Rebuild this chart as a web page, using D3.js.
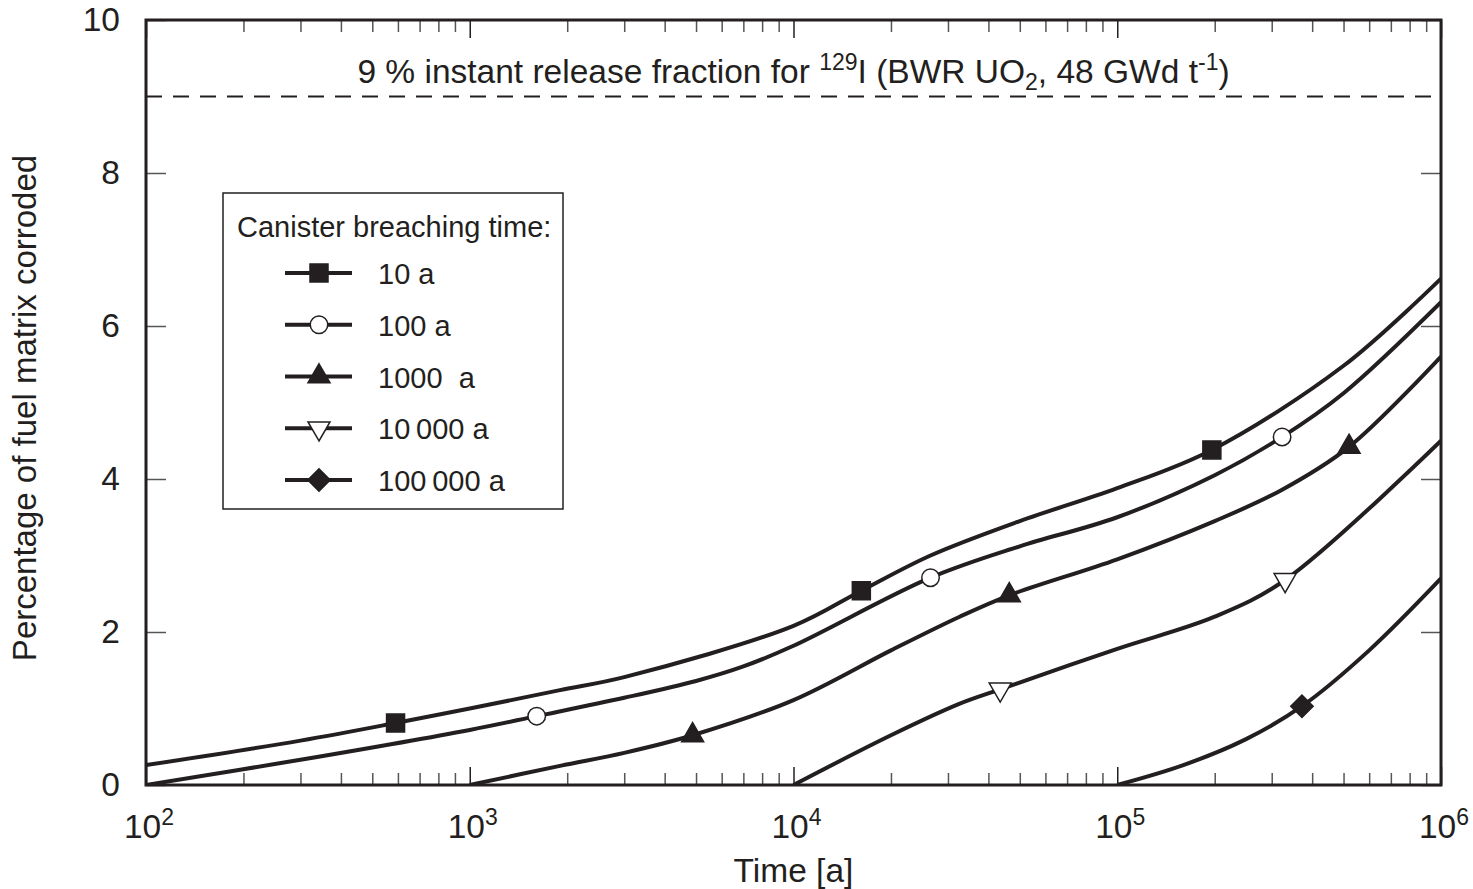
<!DOCTYPE html>
<html>
<head>
<meta charset="utf-8">
<script src="https://cdn.jsdelivr.net/npm/d3@7"></script>
<style>
  body { margin: 0; background: #fff; }
  svg text { font-family: "Liberation Sans", Arial, sans-serif; fill: #231f20; }
</style>
</head>
<body>
<div id="chart"></div>
<script>
// values (time in years, % of fuel matrix corroded)
const times10a = [100, 300, 590, 1000, 1900, 3000, 10000, 16200, 26500, 50000, 100000, 196000, 500000, 1000000];
const pct10a   = [0.26, 0.58, 0.81, 1.0, 1.24, 1.41, 2.08, 2.54, 3.0, 3.45, 3.88, 4.38, 5.48, 6.62];

const times100a = [100, 300, 1000, 1610, 3000, 5000, 7000, 10000, 26500, 50000, 100000, 200000, 323000, 500000, 1000000];
const pct100a   = [0, 0.33, 0.72, 0.90, 1.14, 1.36, 1.55, 1.82, 2.71, 3.12, 3.5, 4.05, 4.55, 5.12, 6.31];

const times1000a = [1000, 1900, 3000, 4880, 10000, 20000, 32600, 46400, 100000, 200000, 320000, 520000, 1000000];
const pct1000a   = [0, 0.25, 0.42, 0.65, 1.11, 1.76, 2.2, 2.48, 2.95, 3.45, 3.85, 4.42, 5.6];

const times10000a = [10000, 20000, 32500, 43500, 100000, 200000, 330000, 1000000];
const pct10000a   = [0, 0.65, 1.06, 1.25, 1.78, 2.2, 2.68, 4.5];

const times100000a = [100000, 160000, 250000, 372000, 600000, 1000000];
const pct100000a   = [0, 0.26, 0.6, 1.03, 1.76, 2.7];

// times at which a marker is drawn on each curve
const markTimes10a = [590, 16200, 196000];
const markTimes100a = [1610, 26500, 323000];
const markTimes1000a = [4880, 46400, 520000];
const markTimes10000a = [43500, 330000];
const markTimes100000a = [372000];

const legendLabels = ["10 a", "100 a", "1000  a", "10\u2009000 a", "100\u2009000 a"];
const xMajorExp = [2, 3, 4, 5, 6];
const yTicks = [0, 2, 4, 6, 8, 10];
const irfLevel = 9;

// plot geometry
width = 1473;
height = 889;
left = 146; right = 1441; top_ = 20; bottom = 785;
ink = "#231f20";
fontBig = 33.5;
fontSup = 23;
fontLegend = 29;

series = [
    { name: legendLabels[0], t: times10a, v: pct10a, marks: markTimes10a, shape: "square", fill: ink },
    { name: legendLabels[1], t: times100a, v: pct100a, marks: markTimes100a, shape: "circle", fill: "#fff" },
    { name: legendLabels[2], t: times1000a, v: pct1000a, marks: markTimes1000a, shape: "up", fill: ink },
    { name: legendLabels[3], t: times10000a, v: pct10000a, marks: markTimes10000a, shape: "down", fill: "#fff" },
    { name: legendLabels[4], t: times100000a, v: pct100000a, marks: markTimes100000a, shape: "diamond", fill: ink }
];

xScale = d3.scaleLog().domain([1e2, 1e6]).range([left, right]);
yScale = d3.scaleLinear().domain([0, 10]).range([bottom, top_]);

svg = d3.select("#chart").append("svg")
    .attr("width", width)
    .attr("height", height);

svg.append("clipPath").attr("id", "plotclip")
    .append("rect")
    .attr("x", left).attr("y", top_)
    .attr("width", right - left).attr("height", bottom - top_);

/* ticks: minor and major on bottom and top, pointing inward */
minorTicks = [];
xMajorExp.slice(0, -1).forEach(function (e) {
    for (var k = 2; k <= 9; k++) minorTicks.push(k * Math.pow(10, e));
});
majorTicks = xMajorExp.map(e => Math.pow(10, e));

function xTicks(side, vals, len, color) {
    var g = svg.append("g")
        .attr("transform", side === "bottom" ? `translate(0,${bottom})` : `translate(0,${top_})`)
        .call((side === "bottom" ? d3.axisBottom(xScale) : d3.axisTop(xScale))
            .tickValues(vals).tickSize(-len).tickFormat(""));
    g.select(".domain").remove();
    g.selectAll(".tick line").attr("stroke", color).attr("stroke-width", 1.5);
}
xTicks("bottom", minorTicks, 12, "#555");
xTicks("top", minorTicks, 12, "#555");
xTicks("bottom", majorTicks, 18, ink);
xTicks("top", majorTicks, 18, ink);

yl = svg.append("g")
    .attr("transform", `translate(${left},0)`)
    .call(d3.axisLeft(yScale).tickValues(yTicks).tickSize(-20).tickPadding(26));
yl.select(".domain").remove();
yl.selectAll(".tick line").attr("stroke", "#555").attr("stroke-width", 1.5);
yl.selectAll(".tick text").attr("font-size", fontBig).attr("fill", ink)
    .style("font-family", '"Liberation Sans", Arial, sans-serif');

yr = svg.append("g")
    .attr("transform", `translate(${right},0)`)
    .call(d3.axisRight(yScale).tickValues(yTicks).tickSize(-20).tickFormat(""));
yr.select(".domain").remove();
yr.selectAll(".tick line").attr("stroke", "#555").attr("stroke-width", 1.5);

/* x tick labels as powers of ten */
xl = svg.append("g").selectAll("text")
    .data(xMajorExp).enter()
    .append("text")
    .attr("x", e => xScale(Math.pow(10, e)) + 3)
    .attr("y", 838)
    .attr("text-anchor", "middle")
    .attr("font-size", fontBig);
xl.append("tspan").text("10");
xl.append("tspan").attr("dy", -13).attr("font-size", fontSup).text(e => e);

/* frame */
svg.append("rect")
    .attr("x", left).attr("y", top_)
    .attr("width", right - left).attr("height", bottom - top_)
    .attr("fill", "none").attr("stroke", ink).attr("stroke-width", 3);

/* instant release fraction line */
svg.append("line")
    .attr("x1", left).attr("x2", right)
    .attr("y1", yScale(irfLevel)).attr("y2", yScale(irfLevel))
    .attr("stroke", ink).attr("stroke-width", 2)
    .attr("stroke-dasharray", "16,11");

title = svg.append("text")
    .attr("x", (left + right) / 2)
    .attr("y", 83)
    .attr("text-anchor", "middle")
    .attr("font-size", fontBig);
title.append("tspan").text("9 % instant release fraction for ");
title.append("tspan").attr("dy", -13).attr("font-size", fontSup).text("129");
title.append("tspan").attr("dy", 13).text("I (BWR UO");
title.append("tspan").attr("dy", 7).attr("font-size", fontSup).text("2");
title.append("tspan").attr("dy", -7).text(", 48 GWd t");
title.append("tspan").attr("dy", -13).attr("font-size", fontSup).text("-1");
title.append("tspan").attr("dy", 13).text(")");

/* axis titles */
svg.append("text")
    .attr("x", (left + right) / 2)
    .attr("y", 882)
    .attr("text-anchor", "middle")
    .attr("font-size", fontBig)
    .text("Time [a]");

svg.append("text")
    .attr("transform", "translate(36,408) rotate(-90)")
    .attr("text-anchor", "middle")
    .attr("font-size", 33)
    .text("Percentage of fuel matrix corroded");

/* curves */
line = d3.line()
    .x(d => xScale(d[0]))
    .y(d => yScale(d[1]))
    .curve(d3.curveCatmullRom.alpha(0.5));

curves = svg.append("g").attr("clip-path", "url(#plotclip)");
curves.selectAll("path")
    .data(series).enter()
    .append("path")
    .attr("d", s => line(s.t.map((t, i) => [t, s.v[i]])))
    .attr("fill", "none")
    .attr("stroke", ink)
    .attr("stroke-width", 4);

function symbolPath(shape) {
    if (shape === "square") return d3.symbol().type(d3.symbolSquare).size(324)();
    if (shape === "circle") return d3.symbol().type(d3.symbolCircle).size(240)();
    if (shape === "up" || shape === "down") return d3.symbol().type(d3.symbolTriangle).size(210)();
    return d3.symbol().type(d3.symbolSquare).size(250)();
}
function symbolRotate(shape) {
    if (shape === "down") return " rotate(180)";
    if (shape === "diamond") return " rotate(45)";
    return "";
}

series.forEach(function (s) {
    svg.append("g").selectAll("path")
        .data(s.marks).enter()
        .append("path")
        .attr("d", symbolPath(s.shape))
        .attr("transform", t => `translate(${xScale(t)},${yScale(s.v[s.t.indexOf(t)])})` + symbolRotate(s.shape))
        .attr("fill", s.fill)
        .attr("stroke", ink)
        .attr("stroke-width", 1.5);
});

/* legend */
legend = svg.append("g");
legend.append("rect")
    .attr("x", 223).attr("y", 193)
    .attr("width", 340).attr("height", 316)
    .attr("fill", "#fff").attr("stroke", ink).attr("stroke-width", 1.5);
legend.append("text")
    .attr("x", 237).attr("y", 237)
    .attr("font-size", fontLegend)
    .text("Canister breaching time:");

rowY = d3.scalePoint().domain(legendLabels).range([273, 480]);
rows = legend.selectAll(".row")
    .data(series).enter()
    .append("g")
    .attr("class", "row")
    .attr("transform", s => `translate(0,${rowY(s.name)})`);
rows.append("line")
    .attr("x1", 285).attr("x2", 352)
    .attr("stroke", ink).attr("stroke-width", 4);
rows.append("path")
    .attr("d", s => symbolPath(s.shape))
    .attr("transform", s => "translate(319,0)" + symbolRotate(s.shape))
    .attr("fill", s => s.fill)
    .attr("stroke", ink)
    .attr("stroke-width", 1.5);
rows.append("text")
    .attr("x", 378).attr("y", 11)
    .attr("font-size", fontLegend)
    .style("white-space", "pre")
    .text(s => s.name);
</script>
</body>
</html>
